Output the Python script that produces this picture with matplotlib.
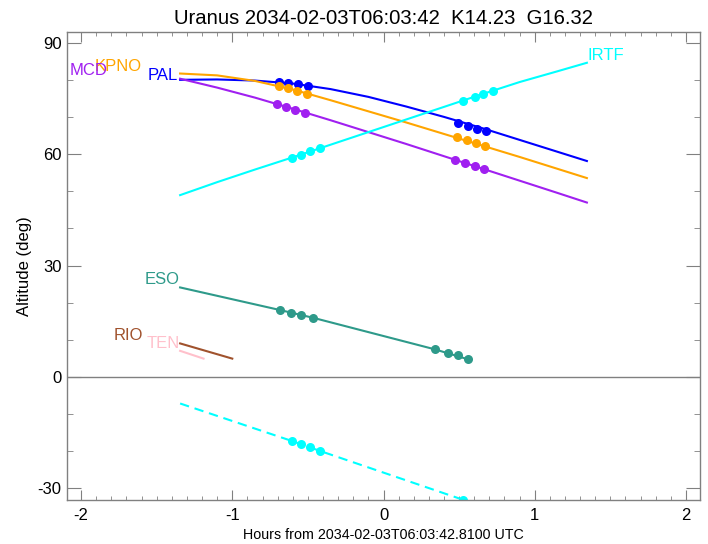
import matplotlib
matplotlib.use("Agg")
import matplotlib.pyplot as plt
from matplotlib.ticker import MultipleLocator

# --- font settings ---
plt.rcParams['font.family'] = ['Liberation Sans', 'DejaVu Sans']
plt.rcParams['axes.unicode_minus'] = False

# --- data (hours from reference time, altitude in deg) ---
track_hours = [-1.345, -1.1, -0.85, -0.6, -0.35, -0.1, 0.15, 0.4, 0.65, 0.9, 1.15, 1.345]
pal_alt = [80.1, 80.2, 79.9, 79.1, 77.6, 75.5, 72.9, 70.1, 67.1, 63.9, 60.7, 58.2]
kpno_alt = [81.8, 81.3, 79.8, 77.5, 74.6, 71.6, 68.6, 65.5, 62.4, 59.3, 56.1, 53.6]
mcd_alt = [80.4, 78.0, 75.3, 72.3, 69.2, 66.0, 62.8, 59.5, 56.2, 52.9, 49.6, 47.0]
irtf_alt = [49.0, 52.5, 55.9, 59.2, 62.6, 66.0, 69.4, 72.8, 76.2, 79.5, 82.4, 84.7]

eso_hours = [-1.345, -0.684, -0.464, 0.34, 0.56]
eso_alt = [24.1, 18.0, 15.9, 7.4, 4.7]

rio_hours = [-1.345, -1.0]
rio_alt = [9.0, 4.9]

ten_hours = [-1.345, -1.19]
ten_alt = [7.0, 4.9]

# dashed cyan track (below horizon)
irtf2_hours = [-1.345, -0.607, -0.42, 0.528, 1.345]
irtf2_alt = [-7.2, -17.3, -20.0, -33.2, -44.5]

# event markers for each site
pal_dot_h = [-0.689, -0.629, -0.567, -0.501, 0.495, 0.561, 0.616, 0.678]
pal_dot_a = [79.6, 79.3, 78.9, 78.5, 68.4, 67.6, 66.9, 66.2]
kpno_dot_h = [-0.689, -0.629, -0.573, -0.508, 0.484, 0.55, 0.61, 0.671]
kpno_dot_a = [78.4, 77.8, 77.2, 76.4, 64.6, 63.8, 63.0, 62.2]
mcd_dot_h = [-0.706, -0.645, -0.585, -0.519, 0.473, 0.539, 0.605, 0.664]
mcd_dot_a = [73.6, 72.8, 72.0, 71.1, 58.5, 57.6, 56.8, 56.0]
irtf_dot_h = [-0.607, -0.547, -0.486, -0.42, 0.528, 0.605, 0.66, 0.722]
irtf_dot_a = [59.1, 59.9, 60.8, 61.7, 74.5, 75.6, 76.3, 77.2]
eso_dot_h = [-0.684, -0.614, -0.545, -0.464, 0.34, 0.424, 0.49, 0.56]
eso_dot_a = [18.0, 17.3, 16.7, 15.9, 7.4, 6.5, 5.8, 4.9]
irtf2_dot_h = [-0.607, -0.547, -0.486, -0.42, 0.528, 0.605, 0.66, 0.722]
irtf2_dot_a = [-17.3, -18.1, -19.0, -20.0, -33.2, -34.3, -35.0, -35.9]

# site labels: (name, colour, x of text edge, y of text bottom, alignment)
labels = [
    ("PAL", "#0000ff", -1.358, 79.2, "right"),
    ("KPNO", "#ffa500", -1.596, 81.8, "right"),
    ("MCD", "#a020f0", -1.828, 80.5, "right"),
    ("IRTF", "#00ffff", 1.352, 84.7, "left"),
    ("ESO", "#2e9a8a", -1.345, 24.3, "right"),
    ("RIO", "#a0522d", -1.59, 9.0, "right"),
    ("TEN", "#ffc0cb", -1.345, 7.0, "right"),
]

# --- plotting ---
fig = plt.figure(figsize=(7.08, 5.44), dpi=100)
ax = fig.add_axes([67 / 708, 1 - 499.5 / 544, 633 / 708, 467.5 / 544])

ax.axhline(0, color="#808080", linewidth=1.0, zorder=1)

lw = 1.5
ms = 6.5
ax.plot(track_hours, pal_alt, color="#0000ff", lw=lw)
ax.plot(track_hours, kpno_alt, color="#ffa500", lw=lw)
ax.plot(track_hours, mcd_alt, color="#a020f0", lw=lw)
ax.plot(track_hours, irtf_alt, color="#00ffff", lw=lw)
ax.plot(eso_hours, eso_alt, color="#2e9a8a", lw=lw)
ax.plot(rio_hours, rio_alt, color="#a0522d", lw=lw)
ax.plot(ten_hours, ten_alt, color="#ffc0cb", lw=lw)
ax.plot(irtf2_hours, irtf2_alt, color="#00ffff", lw=lw, dashes=(4.5, 2.8))

ax.plot(pal_dot_h, pal_dot_a, "o", color="#0000ff", ms=ms, mew=0)
ax.plot(kpno_dot_h, kpno_dot_a, "o", color="#ffa500", ms=ms, mew=0)
ax.plot(mcd_dot_h, mcd_dot_a, "o", color="#a020f0", ms=ms, mew=0)
ax.plot(irtf_dot_h, irtf_dot_a, "o", color="#00ffff", ms=ms, mew=0)
ax.plot(eso_dot_h, eso_dot_a, "o", color="#2e9a8a", ms=ms, mew=0)
ax.plot(irtf2_dot_h, irtf2_dot_a, "o", color="#00ffff", ms=ms, mew=0)

for name, col, lx, ly, ha in labels:
    ax.text(lx, ly, name, color=col, fontsize=12, ha=ha, va="bottom")

ax.set_xlim(-2.093, 2.093)
ax.set_ylim(-33.1, 93.0)

# IDL-like axes: grey frame, inward ticks on all sides
ax.xaxis.set_major_locator(MultipleLocator(1))
ax.xaxis.set_minor_locator(MultipleLocator(0.1))
ax.yaxis.set_major_locator(MultipleLocator(30))
ax.yaxis.set_minor_locator(MultipleLocator(10))
for sp in ax.spines.values():
    sp.set_color("#808080")
    sp.set_linewidth(1.0)
ax.tick_params(which="both", direction="in", top=True, right=True,
               color="#808080", labelsize=12, labelcolor="black")
ax.tick_params(axis="x", which="major", length=7, pad=6)
ax.tick_params(axis="x", which="minor", length=3)
ax.tick_params(axis="y", which="major", length=10, pad=4)
ax.tick_params(axis="y", which="minor", length=4)

ax.set_title("Uranus 2034-02-03T06:03:42  K14.23  G16.32", fontsize=14.6, pad=6)
ax.set_xlabel("Hours from 2034-02-03T06:03:42.8100 UTC", fontsize=10.3, labelpad=4)
ax.set_ylabel("Altitude (deg)", fontsize=12, labelpad=4)

fig.savefig("out.png", dpi=100)
